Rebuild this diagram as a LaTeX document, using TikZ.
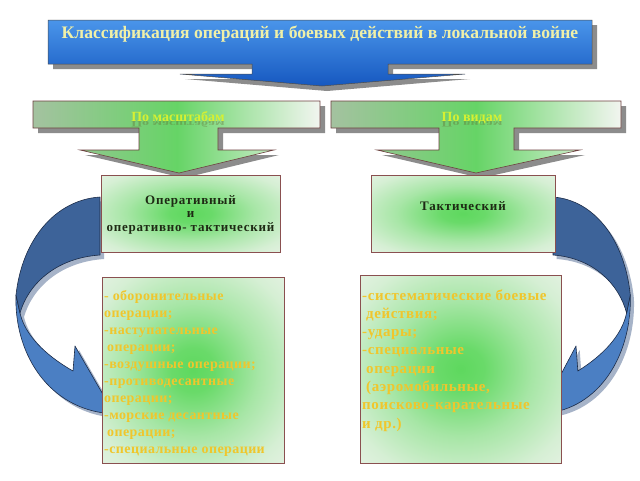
\documentclass[tikz,border=0pt]{standalone}
\usepackage{fontspec}
\setmainfont{Liberation Serif}
\usetikzlibrary{shadings}
\definecolor{titletop}{HTML}{4A95EA}
\definecolor{titlebot}{HTML}{1658C0}
\definecolor{titletext}{HTML}{F0F0A8}
\definecolor{greenmid}{HTML}{66D466}
\definecolor{greenleft}{HTML}{A4C2A0}
\definecolor{greenright}{HTML}{F2F5F0}
\definecolor{labeltext}{HTML}{D6F032}
\definecolor{boxedge}{HTML}{8A5050}
\definecolor{boxin}{HTML}{5ED85E}
\definecolor{boxout}{HTML}{F0F4EE}
\definecolor{darktext}{HTML}{1E2A14}
\definecolor{goldtext}{HTML}{F0C62C}
\definecolor{banddark}{HTML}{3D6399}
\definecolor{bandlight}{HTML}{4B7FC3}
\definecolor{bandedge}{HTML}{1C2C48}
\definecolor{bandshadow}{HTML}{A6B3C8}
\definecolor{shadowgray}{HTML}{8C8C8C}
\pgfdeclareradialshading{boxglow}{\pgfpoint{0bp}{0bp}}{%
  color(0bp)=(boxin); color(6bp)=(boxin!92!boxout); color(18bp)=(boxin!50!boxout); color(30bp)=(boxin!18!boxout); color(42bp)=(boxout); color(50bp)=(boxout)}
\tikzset{
  calloutshadow/.style={fill=shadowgray},
  titlecallout/.style={draw=black!70, line width=0.5pt, top color=titletop, bottom color=titlebot},
  greencallout/.style={draw=boxedge!80!black, line width=0.6pt, left color=greenleft, right color=greenright, middle color=greenmid},
  gbox/.style={draw=boxedge, line width=0.6pt, shading=boxglow},
  titlelabel/.style={font=\fontsize{17.6}{20}\selectfont\bfseries, text=titletext, inner sep=0pt},
  glabel/.style={font=\fontsize{14}{16}\selectfont\bfseries, text=labeltext, inner sep=0pt},
  greflect/.style={font=\fontsize{14}{16}\selectfont\bfseries, text=olive!60!black, opacity=0.35, inner sep=0pt, yscale=-0.6},
  midlabel/.style={font=\fontsize{13}{15}\selectfont\bfseries\addfontfeature{LetterSpace=6}, text=darktext, inner sep=0pt, anchor=base},
  leftline/.style={font=\fontsize{14}{16}\selectfont\bfseries\addfontfeature{LetterSpace=3}, text=goldtext, inner sep=0pt, anchor=base west},
  rightline/.style={font=\fontsize{15}{17}\selectfont\bfseries\addfontfeature{LetterSpace=4}, text=goldtext, inner sep=0pt, anchor=base west},
  banddarkstyle/.style={fill=banddark, draw=bandedge, line width=0.6pt, line join=round},
  bandlightstyle/.style={fill=bandlight, draw=bandedge, line width=0.6pt, line join=round},
  bandshadowstyle/.style={fill=bandshadow}
}
\newcommand{\mybandshadow}{
  (100,197) .. controls (55,200) and (22,240) .. (16,295)
  .. controls (14,350) and (45,405) .. (104,413) -- (112,410)
  -- (75,346) -- (73,371) .. controls (45,355) and (25,335) .. (20,313)
  .. controls (28,285) and (55,258) .. (100,255) -- cycle}
\newcommand{\mybanddark}{
  (100,197) .. controls (55,200) and (22,240) .. (16,295) -- (20,313)
  .. controls (28,285) and (55,258) .. (100,255) -- cycle}
\newcommand{\mybandlight}{
  (16,295) .. controls (14,350) and (45,405) .. (104,413) -- (112,410)
  -- (75,346) -- (73,371) .. controls (45,355) and (25,335) .. (20,313) -- cycle}
\begin{document}
\begin{tikzpicture}[x=1pt,y=-1pt]
\useasboundingbox (0,0) rectangle (640,480);
\fill[white] (0,0) rectangle (640,480);

% curved arrows (drawn first, boxes cover their tips)
\begin{scope}
  \fill[bandshadowstyle, shift={(4,4)}] \mybandshadow;
  \path[bandlightstyle] \mybandlight;
  \path[banddarkstyle] \mybanddark;
\end{scope}
\begin{scope}[shift={(645,0)}, xscale=-0.92]
  \fill[bandshadowstyle, shift={(-4,4)}] \mybandshadow;
  \path[bandlightstyle] \mybandlight;
  \path[banddarkstyle] \mybanddark;
\end{scope}

% title callout
\fill[calloutshadow, shift={(5,5)}] (48,20) -- (592,20) -- (592,64) -- (388,64) -- (388,74) -- (465,74) -- (322,86) -- (180,74) -- (252,74) -- (252,64) -- (48,64) -- cycle;
\path[titlecallout] (48,20) -- (592,20) -- (592,64) -- (388,64) -- (388,74) -- (465,74) -- (322,86) -- (180,74) -- (252,74) -- (252,64) -- (48,64) -- cycle;
\node[titlelabel, anchor=base] (title) at (320,38) {Классификация операций и боевых действий в локальной войне};

% green callouts
\fill[calloutshadow, shift={(5,5)}] (33,101) -- (320,101) -- (320,128) -- (218,128) -- (218,150) -- (274,150) -- (179,173) -- (80,150) -- (139,150) -- (139,128) -- (33,128) -- cycle;
\path[greencallout] (33,101) -- (320,101) -- (320,128) -- (218,128) -- (218,150) -- (274,150) -- (179,173) -- (80,150) -- (139,150) -- (139,128) -- (33,128) -- cycle;
\fill[calloutshadow, shift={(5,5)}] (331,101) -- (621,101) -- (621,128) -- (514,128) -- (514,150) -- (580,150) -- (476,173) -- (377,150) -- (439,150) -- (439,128) -- (331,128) -- cycle;
\path[greencallout] (331,101) -- (621,101) -- (621,128) -- (514,128) -- (514,150) -- (580,150) -- (476,173) -- (377,150) -- (439,150) -- (439,128) -- (331,128) -- cycle;
\node[greflect, anchor=base] (scaleR) at (178,121) {По масштабам};
\node[glabel, anchor=base] (scale) at (178,121) {По масштабам};
\node[greflect, anchor=base] (kindR) at (472,121) {По видам};
\node[glabel, anchor=base] (kind) at (472,121) {По видам};

% middle boxes
\path[gbox] (101,175) rectangle (280,252);
\path[gbox] (371,175) rectangle (555,252);
\node[midlabel] (op1) at (190.5,204) {Оперативный};
\node[midlabel] (op2) at (190.5,217.5) {и};
\node[midlabel] (op3) at (190.5,231) {оперативно- тактический};
\node[midlabel] (tac) at (463,210) {Тактический};

% bottom boxes
\path[gbox] (102,277) rectangle (284,463);
\path[gbox] (360,275) rectangle (561,463);
\foreach \t [count=\i] in {{- оборонительные},{операции;},{-наступательные},{\hspace*{3pt}операции;},{-воздушные операции;},{-противодесантные},{операции;},{-морские десантные},{\hspace*{3pt}операции;},{-специальные операции}}
  \node[leftline] (l\i) at (104,{300+17.1*(\i-1)}) {\t};
\foreach \t [count=\i] in {{-систематические боевые},{\hspace*{4pt}действия;},{-удары;},{-специальные},{\hspace*{4pt}операции},{\hspace*{4pt}(аэромобильные,},{поисково-карательные},{и др.)}}
  \node[rightline] (r\i) at (362,{300+18.3*(\i-1)}) {\t};
\end{tikzpicture}
\end{document}
